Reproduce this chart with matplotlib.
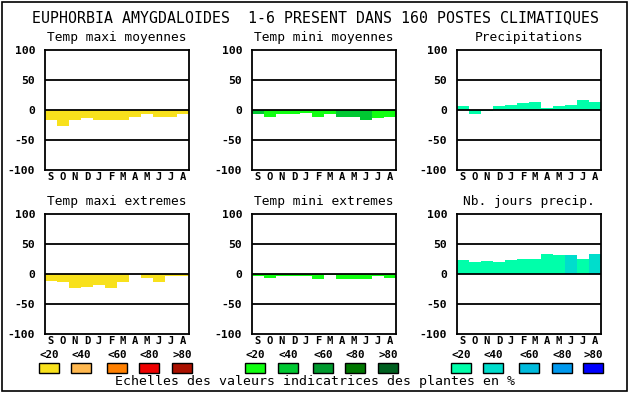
import matplotlib
matplotlib.use("Agg")
import matplotlib.pyplot as plt
from matplotlib.patches import Rectangle

W, H = 630, 394

months = ["S", "O", "N", "D", "J", "F", "M", "A", "M", "J", "J", "A"]
scale_labels = ["<20", "<40", "<60", "<80", ">80"]

# colour scales (one per column)
warm = ["#f8e11c", "#ffb84f", "#ff8000", "#ee0000", "#aa1100"]
green = ["#11ff11", "#00c832", "#009a2e", "#007700", "#006020"]
blue = ["#00ffaa", "#00ddcc", "#00bbdd", "#0099ee", "#0000ff"]

# values (%) and scale class of each month
tmax_moy = [-17, -26, -17, -14, -17, -17, -16, -11, -6, -11, -12, -7]
tmax_moy_cls = [0] * 12
tmin_moy = [-7, -12, -7, -7, -5, -12, -7, -12, -11, -16, -14, -11]
tmin_moy_cls = [1, 0, 0, 0, 0, 0, 0, 1, 1, 1, 0, 0]
precip = [6, -7, -2, 6, 8, 11, 13, 4, 6, 8, 16, 13]
precip_cls = [0] * 12
tmax_ext = [-11, -14, -24, -21, -18, -23, -13, 0, -6, -13, -4, -4]
tmax_ext_cls = [0] * 12
tmin_ext = [-3, -6, -4, -4, -4, -8, -2, -8, -8, -8, -4, -6]
tmin_ext_cls = [0] * 12
jours = [23, 20, 22, 20, 23, 25, 25, 34, 32, 32, 25, 34]
jours_cls = [0, 0, 0, 0, 0, 0, 0, 0, 0, 1, 0, 1]

panels = [
    ("Temp maxi moyennes", tmax_moy, tmax_moy_cls, warm, 45, 50),
    ("Temp mini moyennes", tmin_moy, tmin_moy_cls, green, 252, 50),
    ("Precipitations", precip, precip_cls, blue, 457, 50),
    ("Temp maxi extremes", tmax_ext, tmax_ext_cls, warm, 45, 214),
    ("Temp mini extremes", tmin_ext, tmin_ext_cls, green, 252, 214),
    ("Nb. jours precip.", jours, jours_cls, blue, 457, 214),
]

mono = "DejaVu Sans Mono"
fig = plt.figure(figsize=(W / 100, H / 100), dpi=100)
fig.patch.set_facecolor("white")

# outer frame
fig.add_artist(Rectangle((2 / W, 3 / H), 625 / W, 389 / H, transform=fig.transFigure,
                         fill=False, edgecolor="black", lw=1.2))

fig.text(315 / W, 1 - 18 / H, "EUPHORBIA AMYGDALOIDES  1-6 PRESENT DANS 160 POSTES CLIMATIQUES",
         ha="center", va="center", family=mono, fontsize=10.7)

for title, vals, cls, cols, px, py in panels:
    ax = fig.add_axes([px / W, 1 - (py + 120) / H, 144 / W, 120 / H])
    x = list(range(12))
    ax.bar(x, vals, width=1.0, color=[cols[c] for c in cls], zorder=1)
    for yy in (-50, 0, 50):
        ax.axhline(yy, color="black", lw=1.3, zorder=2)
    ax.set_xlim(-0.5, 11.5)
    ax.set_ylim(-100, 100)
    ax.set_xticks(x)
    ax.set_xticklabels(months, family=mono, fontweight="bold", fontsize=7.6)
    ax.set_yticks([-100, -50, 0, 50, 100])
    ax.set_yticklabels(["-100", "-50", "0", "50", "100"], family=mono, fontweight="bold", fontsize=8.2)
    ax.tick_params(length=0, pad=1.5, axis="x")
    ax.tick_params(length=0, pad=7, axis="y")
    for s in ax.spines.values():
        s.set_linewidth(1.3)
    fig.text((px + 72) / W, 1 - (py - 12) / H, title, ha="center", va="center",
             family=mono, fontsize=9.3)

# colour scale legend
legend_x = [
    (warm, [39, 71, 107, 139, 172]),
    (green, [245, 278, 313, 345, 378]),
    (blue, [451, 483, 519, 552, 583]),
]
for cols, xs in legend_x:
    for c, lab, lx in zip(cols, scale_labels, xs):
        fig.add_artist(Rectangle((lx / W, 1 - 373 / H), 20 / W, 10 / H, transform=fig.transFigure,
                                 facecolor=c, edgecolor="black", lw=1))
        fig.text((lx + 10) / W, 1 - 355 / H, lab, ha="center", va="center",
                 family=mono, fontweight="bold", fontsize=7.8)

fig.text(315 / W, 1 - 382 / H, "Echelles des valeurs indicatrices des plantes en %",
         ha="center", va="center", family=mono, fontsize=9.5)

fig.savefig("out.png", dpi=100)
